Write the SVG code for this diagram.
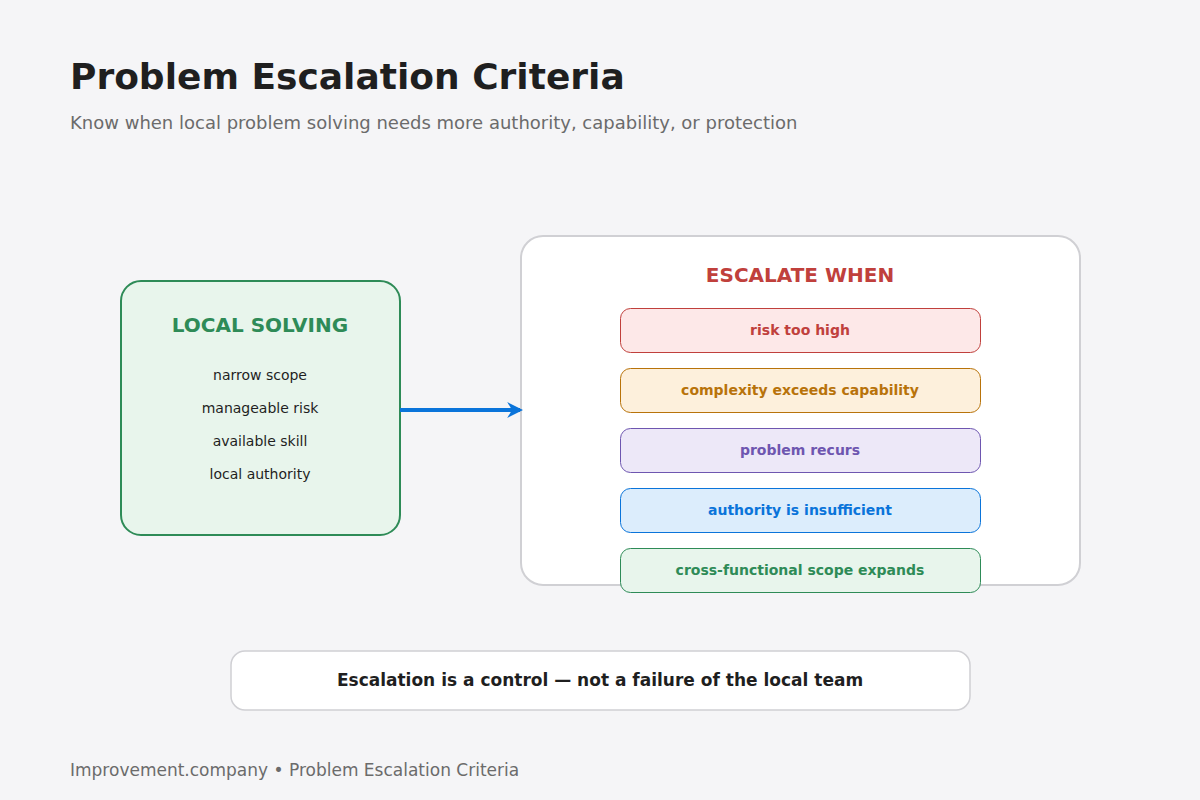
<svg xmlns="http://www.w3.org/2000/svg" width="1200" height="800" viewBox="0 0 1200 800">
<defs>
<style>
text{font-family:"DejaVu Sans",sans-serif}
.item{font-size:14px;fill:#1f1f1f;text-anchor:middle}
.crit{font-size:14px;font-weight:bold;text-anchor:middle}
</style>
<marker id="ah" viewBox="0 0 10 10" refX="8" refY="5" markerWidth="4" markerHeight="4" orient="auto"><path d="M0,0 L10,5 L0,10 L3,5 z" fill="#0a74da"/></marker>
</defs>
<rect width="1200" height="800" fill="#f5f5f7"/>
<text x="70" y="89" font-size="36" font-weight="bold" fill="#1f1f1f">Problem Escalation Criteria</text>
<text x="70" y="129" font-size="18" fill="#6b6b6b">Know when local problem solving needs more authority, capability, or protection</text>
<g id="local">
<rect x="121" y="281" width="279" height="254" rx="20" fill="#e8f5ec" stroke="#2e8b57" stroke-width="2"/>
<text x="260" y="332" font-size="20" font-weight="bold" fill="#2e8b57" text-anchor="middle">LOCAL SOLVING</text>
<text class="item" x="260" y="380">narrow scope</text>
<text class="item" x="260" y="413">manageable risk</text>
<text class="item" x="260" y="446">available skill</text>
<text class="item" x="260" y="479">local authority</text>
</g>
<g id="escalate">
<rect x="521" y="236" width="559" height="349" rx="22" fill="#ffffff" stroke="#d0d0d4" stroke-width="2"/>
<text x="800" y="282" font-size="20" font-weight="bold" fill="#c0403c" text-anchor="middle">ESCALATE WHEN</text>
</g>
<g id="c1"><rect x="620.5" y="308.5" width="360" height="44" rx="10" fill="#fde8e8" stroke="#c0403c"/><text class="crit" x="800" y="335" fill="#c0403c">risk too high</text></g>
<g id="c2"><rect x="620.5" y="368.5" width="360" height="44" rx="10" fill="#fdf0dc" stroke="#b8730a"/><text class="crit" x="800" y="395" fill="#b8730a">complexity exceeds capability</text></g>
<g id="c3"><rect x="620.5" y="428.5" width="360" height="44" rx="10" fill="#ede8f8" stroke="#6e56b0"/><text class="crit" x="800" y="455" fill="#6e56b0">problem recurs</text></g>
<g id="c4"><rect x="620.5" y="488.5" width="360" height="44" rx="10" fill="#dcedfc" stroke="#0a74da"/><text class="crit" x="800" y="515" fill="#0a74da">authority is insufficient</text></g>
<g id="c5"><rect x="620.5" y="548.5" width="360" height="44" rx="10" fill="#e8f5ec" stroke="#2e8b57"/><text class="crit" x="800" y="575" fill="#2e8b57">cross-functional scope expands</text></g>
<g id="connectors">
<line x1="400" y1="410" x2="520" y2="410" stroke="#0a74da" stroke-width="4" marker-end="url(#ah)"/>
</g>
<g id="note">
<rect x="231" y="651" width="739" height="59" rx="14" fill="#ffffff" stroke="#d0d0d4" stroke-width="1.5"/>
<text x="600" y="686" font-size="17" font-weight="bold" fill="#1f1f1f" text-anchor="middle">Escalation is a control — not a failure of the local team</text>
</g>
<text x="70" y="776" font-size="17" fill="#6b6b6b">Improvement.company • Problem Escalation Criteria</text>
</svg>
